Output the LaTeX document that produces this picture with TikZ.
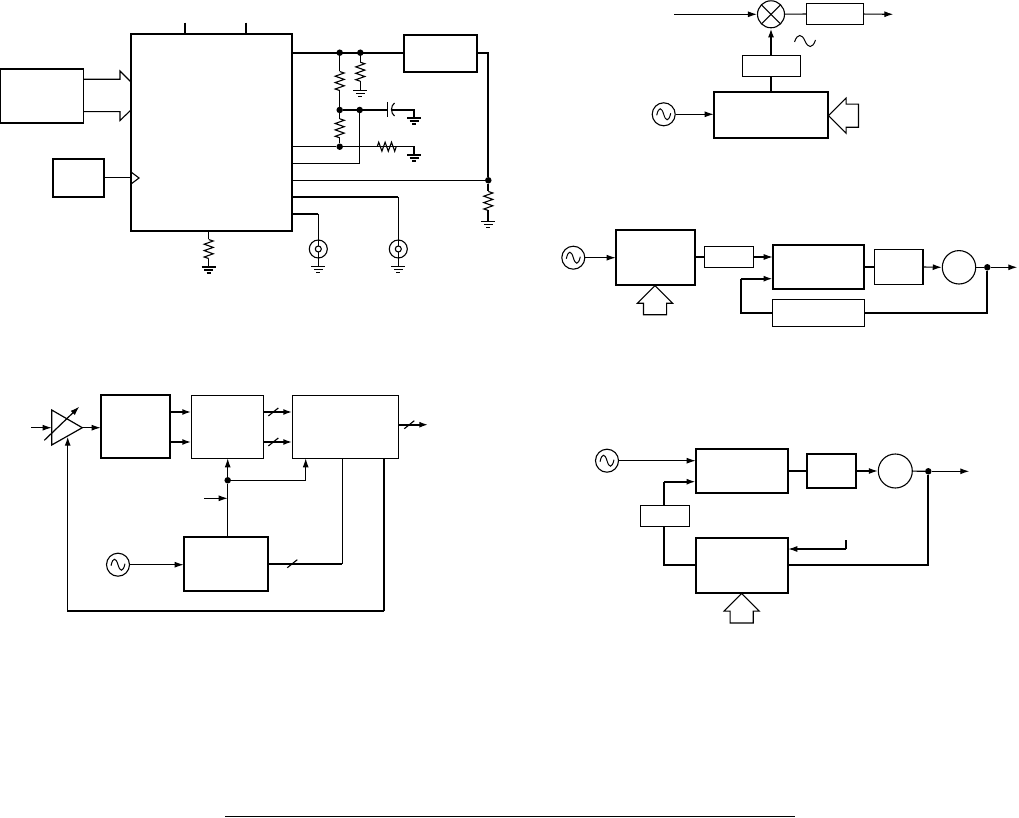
\documentclass[tikz,border=0pt]{standalone}
\usetikzlibrary{arrows.meta,shapes.arrows,calc}

\tikzset{
  x=1pt, y=-1pt,
  fatbox/.style={draw, line width=1.8pt, inner sep=0pt, outer sep=0pt},
  thinbox/.style={draw, line width=1.1pt, inner sep=0pt, outer sep=0pt},
  boxdim/.style 2 args={minimum width=#1pt, minimum height=#2pt},
  wire/.style={line width=1.1pt},
  fatwire/.style={line width=1.8pt},
  sig/.style={wire, -{Latex[length=9pt,width=6pt]}},
  fatsig/.style={fatwire, -{Latex[length=9pt,width=6pt]}},
  dot/.style={circle, fill=black, inner sep=0pt, minimum size=6.5pt},
  wave/.pic={
    \draw[line width=1pt] (-7,1) .. controls (-5,-8) and (-2,-7) .. (0,0)
      .. controls (2,7) and (5,8) .. (7,-1);
  },
  osc/.style={circle, draw, line width=1.1pt, inner sep=0pt, minimum size=23pt,
    path picture={\pic at (path picture bounding box.center) {wave};}},
  ring/.style={circle, draw, line width=1.1pt, inner sep=0pt, minimum size=#1pt},
  mixer/.style={circle, draw, line width=1.1pt, inner sep=0pt, minimum size=27pt,
    path picture={
      \draw[line width=1.1pt] (path picture bounding box.north west) -- (path picture bounding box.south east);
      \draw[line width=1.1pt] (path picture bounding box.north east) -- (path picture bounding box.south west);
    }},
  coax/.style={circle, draw, line width=1.1pt, inner sep=0pt, minimum size=18pt,
    path picture={\draw[line width=1.1pt] (path picture bounding box.center) circle (3);}},
  blockarrow/.style={single arrow, draw, line width=1.1pt, inner xsep=0pt, inner ysep=11pt, outer sep=0pt,
    single arrow head extend=6pt, minimum height=#1pt},
  resv/.pic={
    \draw[wire] (0,-9.5) -- (4.5,-8) -- (-4.5,-4.8) -- (4.5,-1.6) -- (-4.5,1.6)
      -- (4.5,4.8) -- (-4.5,8) -- (0,9.5);
    \coordinate (-t) at (0,-9.5);
    \coordinate (-b) at (0,9.5);
  },
  gnd/.pic={
    \draw (-7,0) -- (7,0);
    \draw (-4.5,3) -- (4.5,3);
    \draw (-2,6) -- (2,6);
    \coordinate (-t) at (0,0);
  },
  gndlight/.style={line width=1pt},
  gndheavy/.style={line width=1.5pt},
  slash/.pic={
    \draw[line width=1.1pt] (-5,4) -- (5,-4);
  }
}

\begin{document}
\begin{tikzpicture}
%  \draw[help lines] (0,0) grid (1019,818);
  \useasboundingbox (0,0) rectangle (1019,818);

  % converter with clock and reference
  \node[fatbox, boxdim={161}{196.7}] (chip) at (211.5,132.35) {};
  \node[fatbox, boxdim={83.5}{54}]   (fpga) at (41.75,96) {};
  \node[fatbox, boxdim={51}{38}]     (clk)  at (78.2,178.3) {};
  \node[fatbox, boxdim={73.3}{37.3}] (reg)  at (440.35,53.35) {};

  \coordinate (pinA) at (185,22.7);
  \coordinate (pinB) at (246,22.7);
  \draw[wire] (pinA) -- (pinA |- chip.north);
  \draw[wire] (pinB) -- (pinB |- chip.north);

  \coordinate (busT) at (120,79.3);
  \coordinate (busB) at (120,111.7);
  \draw[wire] (fpga.east |- busT) -- (busT) -- (120,71) -- (131,82);
  \draw[wire] (fpga.east |- busB) -- (busB) -- (120,120.5) -- (131,110);

  \coordinate (clkIn) at (131,177.5);
  \draw[wire] (clk.east |- clkIn) -- (clkIn);
  \draw[wire] (131,172) -- (139,178) -- (131,184);

  \node[dot] (dotA) at (339.7,52.7) {};
  \node[dot] (dotB) at (360.3,52.7) {};
  \node[dot] (dotC) at (339.7,110) {};
  \node[dot] (dotD) at (359.7,110) {};
  \node[dot] (dotE) at (339.7,146.7) {};
  \node[dot] (dotF) at (488.3,180.3) {};

  \draw[fatwire] (chip.east |- dotA) -- (reg.west |- dotA);
  \draw[fatwire] (reg.east |- dotA) -| (dotF);

  \pic (rA) at (339.7,81) {resv};
  \pic (rB) at (360.3,71.7) {resv};
  \pic (rC) at (339.7,128.3) {resv};
  \pic[rotate=90] (rD) at (386.7,146.7) {resv};
  \pic (rE) at (488.3,201) {resv};
  \pic (rF) at (208.7,249) {resv};

  \pic[gndlight] (gB) at (360.3,90.7) {gnd};
  \pic[gndheavy] (gC) at (414,118) {gnd};
  \pic[gndheavy] (gD) at (414,155) {gnd};
  \pic[gndheavy] (gE) at (488.3,221.5) {gnd};
  \pic[gndheavy] (gF) at (208.7,267) {gnd};
  \pic[gndlight] (gG) at (318.3,266) {gnd};
  \pic[gndlight] (gH) at (398.3,266) {gnd};

  \draw[wire] (dotA) -- (rA-t);
  \draw[wire] (rA-b) -- (dotC) -- (rC-t);
  \draw[wire] (rC-b) -- (dotE);
  \draw[wire] (dotB) -- (rB-t);
  \draw[wire] (rB-b) -- (gB-t);
  \draw[fatwire] (rE-b) -- (gE-t);
  \draw[fatwire] (dotF) -- (rE-t);
  \draw[wire] (chip.south -| rF-t) -- (rF-t);
  \draw[wire] (rF-b) -- (gF-t);

  \coordinate (capL) at (387.7,110);
  \coordinate (capR) at (391.5,110);
  \coordinate (capE) at (414,110);
  \draw[wire] (dotC) -- (capL);
  \draw[wire] (387.7,102) -- (387.7,117);
  \draw[wire] (394.5,103) .. controls (390.5,106) and (390.5,113) .. (394.5,116);
  \draw[wire] (capR) -- (capE) -- (gC-t);

  \coordinate (resE) at (414,146.7);
  \draw[wire] (chip.east |- dotE) -- (dotE) -- (rD-b);
  \draw[wire] (rD-t) -- (resE) -- (gD-t);

  \coordinate (senseB) at (359.7,163.3);
  \draw[wire] (chip.east |- senseB) -- (senseB);
  \draw[line width=1.4pt] (senseB) -- (dotD);
  \draw[wire] (chip.east |- dotF) -- (dotF);

  \node[coax] (coaxA) at (318.3,249) {};
  \node[coax] (coaxB) at (398.3,249) {};
  \coordinate (bendA) at (318.3,213.7);
  \coordinate (bendB) at (398.3,197);
  \draw[fatwire] (chip.east |- bendA) -- (bendA);
  \draw[fatwire] (chip.east |- bendB) -- (bendB);
  \draw[wire] (bendA) -- ($(coaxA.center)+(0,-3)$);
  \draw[wire] (bendB) -- ($(coaxB.center)+(0,-3)$);
  \draw[wire] ($(coaxA.center)+(0,3)$) -- (gG-t);
  \draw[wire] ($(coaxB.center)+(0,3)$) -- (gH-t);

  % receiver chain with gain loop
  \coordinate (vgaA) at (51.7,410);
  \coordinate (vgaB) at (51.7,445);
  \coordinate (vgaTip) at (82.3,427.7);
  \coordinate (vgaCtl) at (67.7,436.7);
  \coordinate (rxIn) at (31,427.7);
  \draw[line width=1.2pt] (vgaA) -- (vgaB) -- (vgaTip) -- cycle;
  \draw[sig] (rxIn) -- (rxIn -| vgaA);
  \draw[sig, line width=1.2pt] (44.3,440.3) -- (79.3,406.7);

  \node[fatbox, boxdim={69.6}{63}] (mix)  at (135.5,426.8) {};
  \node[thinbox, line width=1.4pt, boxdim={72}{63}]  (adc)  at (227.3,426.8) {};
  \node[thinbox, line width=1.4pt, boxdim={106}{63}] (dsp)  at (345.3,426.8) {};
  \node[fatbox, boxdim={84.6}{54.3}] (lo)   at (226,563.85) {};
  \node[osc] (oscA) at (118,564.7) {};

  \draw[sig] (vgaTip) -- (mix.west |- vgaTip);

  \coordinate (chI) at (170.3,412);
  \coordinate (chQ) at (170.3,442);
  \draw[fatsig] (chI) -- (chI -| adc.west);
  \draw[fatsig] (chQ) -- (chQ -| adc.west);
  \draw[fatsig] (adc.east |- chI) -- (dsp.west |- chI);
  \draw[fatsig] (adc.east |- chQ) -- (dsp.west |- chQ);
  \pic at (273.3,412) {slash};
  \pic at (273.3,442) {slash};

  \coordinate (rxOut) at (428.3,424.7);
  \draw[fatsig] (dsp.east |- rxOut) -- (rxOut);
  \pic at (409.3,424.7) {slash};

  \node[dot] (dotG) at (227.7,480.3) {};
  \coordinate (clkB) at (305.7,480.3);
  \coordinate (clkS) at (204.3,498.3);
  \coordinate (clkM) at (227.7,498.3);
  \draw[wire] (lo.north -| dotG) -- (dotG);
  \draw[sig] (dotG) -- (adc.south -| dotG);
  \draw[sig] (dotG) -- (clkB) -- (dsp.south -| clkB);
  \draw[sig] (clkS) -- (clkM);

  \draw[sig] (oscA) -- (oscA -| lo.west);

  \coordinate (ctlB) at (342.3,563.7);
  \draw[fatwire] (lo.east |- ctlB) -- (ctlB);
  \draw[wire] (ctlB) -- (ctlB |- dsp.south);
  \pic at (292.3,563.7) {slash};

  \coordinate (fbR) at (384,611);
  \draw[fatwire] (fbR |- dsp.south) -- (fbR);
  \draw[sig, line width=1.2pt] (fbR) -- (fbR -| vgaCtl) -- (vgaCtl);

  % mixer with synthesizer
  \node[mixer] (mxA) at (771,14.3) {};
  \node[thinbox, boxdim={57.4}{21}] (bpfA) at (835,13.8) {};
  \node[thinbox, boxdim={57.6}{21}] (bpfB) at (771.5,65.8) {};
  \node[fatbox, boxdim={114.3}{46}] (ddsA) at (770.85,114.7) {};
  \node[osc] (oscB) at (663.7,114.3) {};
  \node[blockarrow=30, rotate=180, anchor=tip] (wordA) at (828.5,115.7) {};
  \coordinate (ifIn) at (674.3,14.3);
  \coordinate (ifOut) at (893.3,14.3);
  \draw[sig] (ifIn) -- (mxA);
  \draw[sig] (mxA) -- (bpfA) -- (ifOut);
  \draw[fatwire] (ddsA.north -| mxA) -- (bpfB.south -| mxA);
  \draw[fatsig] (bpfB.north -| mxA) -- (mxA.south);
  \draw[sig] (oscB) -- (oscB -| ddsA.west);
  \pic[xscale=1.5] (loSym) at (805,41) {wave};

  % loop with reference divider
  \node[osc] (oscC) at (573.3,257.7) {};
  \node[fatbox, boxdim={79.6}{55.3}]  (ddsB) at (655.5,257.35) {};
  \node[blockarrow=29, rotate=90, anchor=tip] (wordB) at (655,285.7) {};
  \node[thinbox, boxdim={49}{20.6}]   (lpfA) at (728.8,257) {};
  \node[fatbox, boxdim={91.6}{44}]    (pfdA) at (818.5,267) {};
  \node[thinbox, line width=1.4pt, boxdim={48.7}{34.6}] (lpfB) at (898.65,267) {};
  \node[ring=33.4] (vcoA) at (959,267.3) {};
  \node[thinbox, boxdim={91.6}{27}]   (divA) at (818.5,312.8) {};
  \node[dot] (dotH) at (987.3,267.3) {};
  \coordinate (synOut) at (1017.3,267.3);
  \coordinate (fbA) at (987.3,313);
  \coordinate (fbB) at (740.7,313);
  \coordinate (fbC) at (740.7,278.7);
  \draw[sig] (oscC) -- (oscC -| ddsB.west);
  \draw[wire] (ddsB.east |- lpfA) -- (lpfA);
  \draw[sig] (lpfA) -- (lpfA -| pfdA.west);
  \draw[wire] (pfdA) -- (lpfB);
  \draw[sig] (lpfB.east) -- (vcoA.west);
  \draw[wire] (vcoA) -- (dotH);
  \draw[sig] (dotH) -- (synOut);
  \draw[fatwire] (dotH) -- (fbA) -- (divA.east |- fbA);
  \draw[fatwire] (divA.west |- fbB) -- (fbB) -- (fbC);
  \draw[fatsig] (fbC) -- (fbC -| pfdA.west);

  % loop with divider after the filter
  \node[osc] (oscD) at (607,460.7) {};
  \node[fatbox, boxdim={92}{43.7}]    (pfdB) at (741.7,470.85) {};
  \node[fatbox, boxdim={49}{34.6}]    (lpfC) at (831.8,471) {};
  \node[ring=34] (vcoB) at (895.3,471) {};
  \node[dot] (dotI) at (928.3,471.3) {};
  \node[fatbox, boxdim={92.6}{55.3}]  (ddsC) at (742,565.35) {};
  \node[thinbox, boxdim={49}{21.4}]   (lpfD) at (664.8,516) {};
  \node[blockarrow=29.5, rotate=90, anchor=tip] (wordC) at (741.7,593.5) {};
  \coordinate (synOutB) at (969.3,471.3);
  \coordinate (fbD) at (928.3,565);
  \coordinate (fbE) at (664,565);
  \coordinate (fbF) at (664,481.7);
  \coordinate (clkT) at (846,540);
  \coordinate (clkU) at (846,549);
  \draw[sig] (oscD) -- (oscD -| pfdB.west);
  \draw[wire] (pfdB.east |- lpfC) -- (lpfC);
  \draw[sig] (lpfC.east) -- (vcoB.west);
  \draw[wire] (vcoB) -- (dotI);
  \draw[sig] (dotI) -- (synOutB);
  \draw[fatwire] (dotI) -- (fbD) -- (ddsC.east |- fbD);
  \draw[fatwire] (ddsC.west |- fbE) -- (fbE) -- (fbE |- lpfD.south);
  \draw[fatwire] (fbE |- lpfD.north) -- (fbF);
  \draw[fatsig] (fbF) -- (fbF -| pfdB.west);
  \draw[fatwire] (clkT) -- (clkU);
  \draw[sig] (clkU) -- (clkU -| ddsC.east);

  \coordinate (ruleL) at (225,816.5);
  \coordinate (ruleR) at (795,816.5);
  \draw[line width=0.8pt] (ruleL) -- (ruleR);
\end{tikzpicture}
\end{document}
